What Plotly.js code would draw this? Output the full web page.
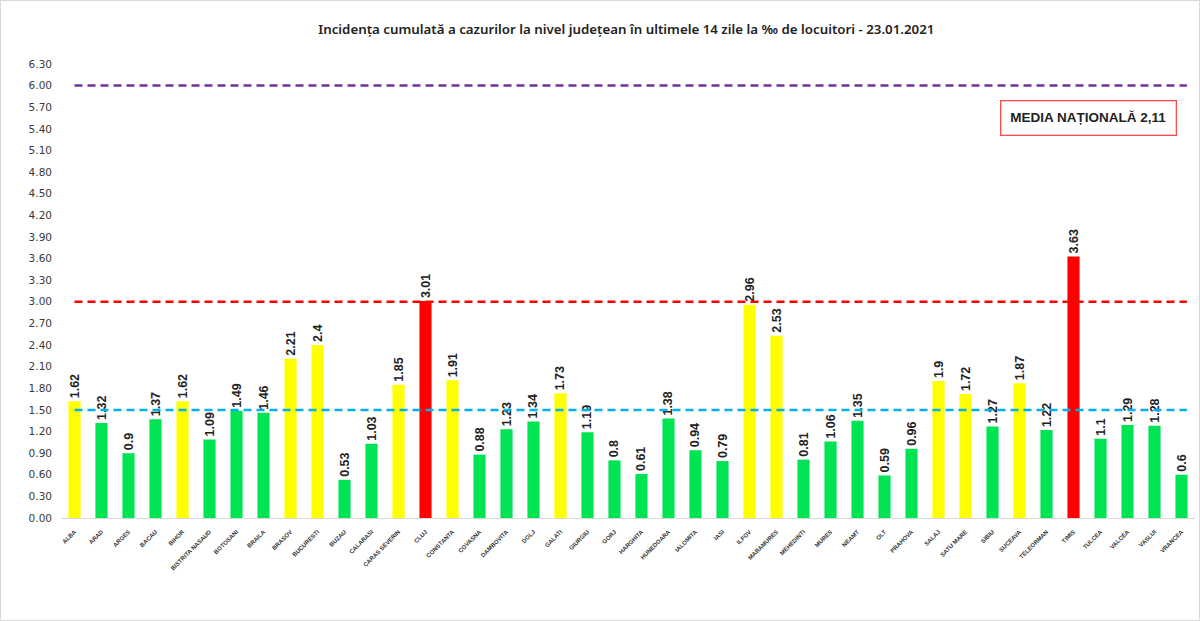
<!DOCTYPE html>
<html><head><meta charset="utf-8">
<script src="https://cdn.plot.ly/plotly-3.0.1.min.js"></script>
<style>html,body{margin:0;padding:0;background:#fff;}#chart{width:1200px;height:621px;box-sizing:border-box;border:1px solid #d9d9d9;}</style>
</head><body><div id="chart"></div>
<script>
const counties = ["ALBA","ARAD","ARGES","BACAU","BIHOR","BISTRITA NASAUD","BOTOSANI","BRAILA","BRASOV","BUCURESTI","BUZAU","CALARASI","CARAS SEVERIN","CLUJ","CONSTANTA","COVASNA","DAMBOVITA","DOLJ","GALATI","GIURGIU","GORJ","HARGHITA","HUNEDOARA","IALOMITA","IASI","ILFOV","MARAMURES","MEHEDINTI","MURES","NEAMT","OLT","PRAHOVA","SALAJ","SATU MARE","SIBIU","SUCEAVA","TELEORMAN","TIMIS","TULCEA","VALCEA","VASLUI","VRANCEA"];
const incidence = [1.62,1.32,0.9,1.37,1.62,1.09,1.49,1.46,2.21,2.4,0.53,1.03,1.85,3.01,1.91,0.88,1.23,1.34,1.73,1.19,0.8,0.61,1.38,0.94,0.79,2.96,2.53,0.81,1.06,1.35,0.59,0.96,1.9,1.72,1.27,1.87,1.22,3.63,1.1,1.29,1.28,0.6];
const thresholds = [1.5, 3.0, 6.0];
const yTicks = [0,0.3,0.6,0.9,1.2,1.5,1.8,2.1,2.4,2.7,3.0,3.3,3.6,3.9,4.2,4.5,4.8,5.1,5.4,5.7,6.0,6.3];
const nationalAvg = "MEDIA NAȚIONALĂ 2,11";
const chartTitle = "Incidența cumulată a cazurilor la nivel județean în ultimele 14 zile la ‰ de locuitori - 23.01.2021";

const colors = incidence.map(v => v > 3 ? '#FF0000' : (v >= 1.5 ? '#FFFF00' : '#00E454'));
const lineColors = ['#00B0F0', '#FF0000', '#7030A0'];

const trace = {
  type: 'bar', x: counties, y: incidence,
  marker: {color: colors},
  text: incidence.map(v => String(v)),
  textposition: 'outside', textangle: -90, cliponaxis: false, constraintext: 'none',
  textfont: {family: 'Liberation Sans, Arial, sans-serif', size: 12.5, color: '#222', weight: 'bold'},
  hoverinfo: 'x+y'
};
const n = counties.length;
const shapes = thresholds.map((t, i) => ({
  type: 'line', xref: 'x', yref: 'y', x0: 0, x1: n - 0.8, y0: t, y1: t,
  line: {color: lineColors[i], width: 2.5, dash: '8px,5px'}
}));
const layout = {
  width: 1198, height: 619,
  margin: {l: 60, r: 4, t: 63, b: 102},
  paper_bgcolor: '#fff', plot_bgcolor: '#fff',
  title: {text: chartTitle, x: 0.522, xanchor: 'center', y: 0.955, yanchor: 'middle',
    font: {family: 'Noto Sans, sans-serif', size: 13.3, color: '#222', weight: 600}},
  bargap: 0.55,
  showlegend: false,
  xaxis: {type: 'category', tickangle: -45, showline: true, linecolor: '#d9d9d9', linewidth: 1,
    ticks: 'outside', ticklen: 7, tickcolor: 'rgba(0,0,0,0)', showgrid: false,
    tickfont: {family: 'Liberation Sans, Arial, sans-serif', size: 6, color: '#333', weight: 'bold'}},
  yaxis: {range: [0, 6.3], tickvals: yTicks, ticktext: yTicks.map(v => v.toFixed(2)), showgrid: false,
    zeroline: false, showline: false, ticks: '', ticklen: 0, ticklabelstandoff: 8,
    tickfont: {family: 'DejaVu Sans, sans-serif', size: 10.5, color: '#3a3a3a'}},
  shapes: shapes,
  annotations: [{
    text: '<b>' + nationalAvg + '</b>', xref: 'paper', yref: 'paper', x: 0.984, y: 0.881,
    xanchor: 'right', yanchor: 'middle', showarrow: false,
    font: {family: 'Liberation Sans, Arial, sans-serif', size: 13.5, color: '#222'},
    bordercolor: '#FF4A4A', borderwidth: 1.3, borderpad: 9, bgcolor: '#fff'
  }]
};
Plotly.newPlot('chart', [trace], layout, {displayModeBar: false, staticPlot: true});
</script></body></html>
